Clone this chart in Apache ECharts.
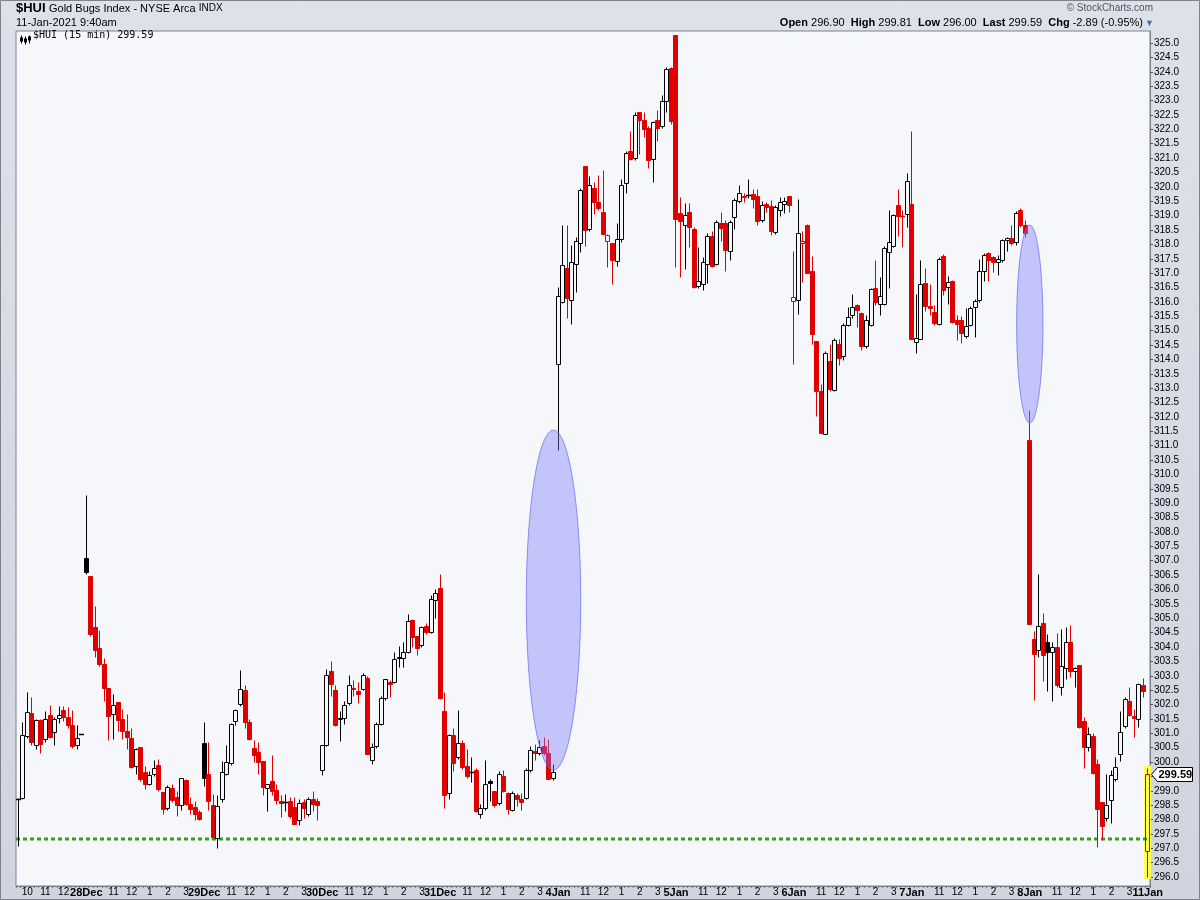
<!DOCTYPE html>
<html>
<head>
<meta charset="utf-8">
<script src="https://cdn.jsdelivr.net/npm/echarts@6/dist/echarts.min.js"></script>
<style>
html,body{margin:0;padding:0;background:#d8dde6;}
#chart{width:1200px;height:900px;}
</style>
</head>
<body>
<div id="chart"></div>
<script>
// ---------------- data ----------------
const dayKeys    = ['24Dec','28Dec','29Dec','30Dec','31Dec','4Jan','5Jan','6Jan','7Jan','8Jan','11Jan'];
const dayLabels  = ['', '28Dec','29Dec','30Dec','31Dec','4Jan','5Jan','6Jan','7Jan','8Jan','11Jan'];
const barsPerDay = [15, 26, 26, 26, 26, 26, 26, 26, 26, 26, 1];
const sessionTimes = ['9:30','9:45','10:00','10:15','10:30','10:45','11:00','11:15','11:30','11:45',
  '12:00','12:15','12:30','12:45','13:00','13:15','13:30','13:45','14:00','14:15','14:30','14:45',
  '15:00','15:15','15:30','15:45'];
const hourMarks = {'10:00':'10','11:00':'11','12:00':'12','13:00':'1','14:00':'2','15:00':'3'};

const opens = [
 298.70,298.76,300.90,301.69,300.61,301.45,300.79,301.64,301.05,301.52,301.81,301.56,301.30,300.58,300.96,
 307.09,306.47,304.68,303.98,303.41,302.57,301.66,302.08,301.49,301.08,300.84,299.88,300.52,299.65,299.24,299.57,299.89,298.96,298.39,299.10,298.78,298.50,299.37,298.55,298.43,298.26,
 300.65,299.57,298.50,297.36,298.73,299.60,299.98,301.43,302.01,302.50,301.40,300.50,300.36,300.03,299.10,299.34,299.02,298.64,298.62,298.66,298.45,298.00,298.60,298.18,298.70,298.64,
 299.72,300.60,303.16,302.50,301.50,301.52,302.07,302.59,302.47,302.53,302.91,300.06,300.56,301.31,302.22,302.79,302.78,303.64,303.61,303.84,304.93,304.38,304.06,304.74,304.53,305.63,
 306.06,301.76,298.91,300.94,300.18,300.67,299.86,299.65,299.72,298.21,298.40,299.34,298.99,298.56,299.53,298.91,298.35,298.87,298.72,298.76,299.71,300.40,300.30,300.56,300.30,299.45,
 313.84,316.01,317.18,316.07,317.32,318.05,320.74,318.53,319.95,319.49,319.14,318.13,318.05,317.41,318.19,320.14,321.23,321.01,322.60,322.34,322.06,320.98,322.32,322.12,322.97,324.13,
 325.27,319.10,318.68,319.14,318.54,316.54,316.63,317.32,318.28,317.32,318.74,318.75,317.76,318.94,319.50,319.70,319.71,319.76,319.67,318.86,319.42,319.35,318.42,319.18,319.42,319.68,
 316.02,316.06,318.04,318.66,317.09,314.65,312.90,311.41,313.96,312.94,314.54,314.13,315.21,315.55,315.90,315.62,314.45,315.21,316.49,315.93,315.93,317.75,317.96,319.38,319.00,319.06,
 319.42,314.62,314.72,316.66,315.87,315.66,315.23,317.61,316.53,316.71,315.37,315.37,314.80,315.20,315.83,316.07,317.09,317.69,317.55,317.40,317.46,318.16,318.21,318.07,319.18,318.68,
 311.21,304.27,303.88,304.83,304.19,303.82,303.99,302.60,303.28,304.19,303.16,303.38,301.41,300.54,300.92,299.93,298.60,298.04,298.69,299.41,300.27,301.25,302.14,301.60,301.48,302.67,
 296.90];
const highs = [
 298.75,301.40,302.44,302.26,301.50,301.50,301.77,301.98,301.55,301.94,301.94,301.90,301.80,301.30,300.96,
 309.29,306.47,305.43,304.59,303.61,302.57,302.35,302.10,301.84,301.66,301.17,300.50,300.52,299.86,299.70,300.06,300.12,298.96,299.20,299.25,299.01,299.45,299.40,298.78,298.64,298.35,
 301.39,300.69,298.90,298.85,300.03,300.58,301.35,301.85,303.19,302.68,301.50,300.75,300.69,300.03,299.25,300.24,299.22,298.87,298.90,298.80,298.78,298.70,298.70,298.79,299.01,298.76,
 300.60,303.25,303.50,302.68,301.77,302.11,303.02,302.86,302.77,303.10,303.00,300.65,301.40,302.30,302.90,302.84,303.84,304.03,304.18,305.16,304.99,304.38,304.72,304.83,305.80,306.03,
 306.55,302.42,300.98,301.18,301.81,300.75,300.47,300.17,299.80,298.55,300.06,299.40,299.00,299.68,299.72,298.95,299.00,298.93,298.93,299.80,300.56,300.62,300.76,300.87,300.79,299.94,
 316.51,318.66,318.66,317.99,318.27,319.95,320.74,320.37,320.16,320.43,320.57,318.35,318.05,318.75,320.26,321.24,321.93,322.60,322.62,322.60,322.10,322.30,322.66,323.18,324.16,324.16,
 325.27,319.64,319.45,319.45,318.60,317.92,317.55,318.40,318.48,318.85,319.14,318.85,318.85,319.60,320.05,319.79,320.26,319.94,319.94,319.50,319.49,319.53,319.38,319.64,319.64,319.70,
 317.76,319.58,318.47,318.70,317.61,314.65,313.14,314.30,314.54,314.75,314.72,315.25,315.81,316.28,315.92,315.65,315.56,316.50,317.47,316.86,317.95,319.21,319.05,319.93,319.20,320.48,
 321.93,316.28,317.47,317.17,316.63,315.89,317.55,317.65,316.89,316.75,315.56,315.50,315.79,315.85,316.10,317.50,317.70,317.73,317.60,317.63,318.20,318.25,318.66,319.15,319.28,318.86,
 312.24,304.57,306.54,305.20,304.45,304.19,304.49,304.64,304.69,304.75,303.30,303.38,301.55,301.23,301.00,300.09,298.60,299.60,299.74,300.16,301.76,302.25,302.60,301.86,302.75,302.93,
 299.81];
const lows = [
 297.07,298.70,300.85,300.60,300.46,300.32,300.70,300.85,300.61,301.37,301.42,301.20,300.50,300.46,300.96,
 306.53,304.38,303.65,303.35,302.12,300.75,300.79,301.08,300.79,300.44,299.80,299.57,299.35,299.05,299.20,299.50,299.00,298.20,298.35,298.60,298.14,298.35,298.50,298.20,298.00,298.00,
 299.18,298.35,297.35,297.01,298.60,299.55,299.90,301.30,301.95,301.20,300.75,299.99,299.57,298.84,298.31,298.87,298.55,298.09,298.31,298.05,297.85,297.82,298.06,298.12,298.29,297.97,
 299.55,300.55,302.30,301.25,300.73,301.33,302.00,302.30,302.07,302.50,300.27,299.94,300.50,301.30,302.15,302.27,302.75,303.30,303.31,303.80,304.00,303.72,304.00,304.45,304.50,305.02,
 302.20,298.40,298.73,299.69,300.10,299.76,299.45,299.31,298.27,298.06,298.35,298.64,298.45,298.49,298.95,298.18,298.30,298.46,298.35,298.70,299.65,300.07,300.25,300.25,299.40,299.37,
 310.85,315.95,315.44,315.23,316.34,317.73,317.94,318.45,319.04,319.20,318.37,317.20,316.61,317.26,318.10,319.78,320.95,320.95,321.15,321.73,320.65,320.16,321.59,322.05,322.60,322.20,
 317.20,316.86,317.15,317.92,316.50,316.50,316.41,316.66,317.20,317.30,318.11,317.07,317.46,318.52,319.45,319.47,319.60,319.26,318.66,318.78,319.12,318.34,318.36,319.00,319.10,319.12,
 313.84,315.58,316.68,317.00,314.54,312.04,311.44,311.41,312.90,312.90,313.81,313.98,315.15,315.45,315.12,314.33,314.40,315.15,315.90,315.53,315.88,316.48,317.90,318.30,317.90,318.62,
 314.70,314.22,314.70,315.67,315.55,315.20,315.20,316.24,315.93,315.25,314.69,314.57,314.75,315.15,314.77,316.00,316.74,316.71,317.03,316.94,317.40,317.78,317.97,317.97,318.60,318.25,
 304.80,302.17,303.66,302.82,302.47,302.14,302.60,302.32,302.90,302.97,302.60,301.20,299.81,300.40,299.60,297.05,297.28,297.95,297.88,299.35,300.04,301.20,301.60,300.88,301.23,302.26,
 296.00];
const closes = [
 298.72,300.93,301.74,300.70,301.45,300.62,301.49,300.88,301.49,301.62,301.57,301.28,300.55,300.82,300.96,
 306.62,304.46,303.90,303.40,302.59,301.60,302.00,301.45,301.09,300.87,299.84,300.47,299.42,299.22,299.55,299.78,299.05,298.36,299.13,298.67,298.49,299.43,298.55,298.37,298.20,298.03,
 299.43,298.64,297.39,298.47,299.65,300.00,301.31,301.80,302.53,301.40,300.79,300.24,300.01,299.13,299.22,299.01,298.67,298.59,298.60,298.12,297.86,298.56,298.40,298.70,298.55,298.52,
 300.59,303.03,302.70,301.29,301.52,302.00,302.67,302.55,302.38,303.02,300.27,300.53,301.31,302.22,302.88,302.73,303.58,303.62,303.83,304.89,304.36,303.98,304.69,304.52,305.66,305.88,
 302.23,298.86,300.94,299.98,300.67,299.84,299.51,299.66,298.31,298.40,299.22,299.26,298.49,299.60,298.99,298.38,298.91,298.70,298.62,299.71,300.43,300.30,300.52,300.30,299.42,299.65,
 316.22,317.29,316.13,317.40,318.13,319.90,318.51,320.08,319.46,319.26,318.37,318.33,317.47,318.19,320.05,321.18,320.98,322.51,322.34,322.00,320.92,322.24,322.04,322.98,324.11,322.29,
 318.89,318.80,319.03,318.60,316.51,316.71,317.40,318.30,317.26,318.79,318.56,317.82,318.79,319.55,319.79,319.64,319.72,319.58,318.81,319.38,319.29,318.46,319.29,319.49,319.50,319.38,
 316.16,318.39,318.13,317.00,314.89,312.90,311.44,314.22,312.97,314.68,314.05,315.20,315.46,315.81,315.72,314.45,315.37,316.45,315.99,316.19,317.88,318.10,319.03,319.00,318.97,320.22,
 314.72,314.73,316.63,315.85,315.78,315.25,317.50,316.41,316.68,315.29,315.23,314.91,315.15,315.79,316.04,317.07,317.63,317.46,317.40,317.50,318.16,318.22,318.04,319.10,318.68,318.40,
 304.80,303.76,304.72,303.73,303.81,304.01,302.67,303.33,304.19,303.16,303.28,301.23,300.51,300.97,299.63,298.37,297.76,298.49,299.55,299.83,301.04,302.19,301.63,301.53,302.72,302.48,
 299.59];

const yTickValues = [296.0,296.5,297.0,297.5,298.0,298.5,299.0,299.5,300.0,300.5,301.0,301.5,302.0,302.5,
  303.0,303.5,304.0,304.5,305.0,305.5,306.0,306.5,307.0,307.5,308.0,308.5,309.0,309.5,310.0,310.5,311.0,
  311.5,312.0,312.5,313.0,313.5,314.0,314.5,315.0,315.5,316.0,316.5,317.0,317.5,318.0,318.5,319.0,319.5,
  320.0,320.5,321.0,321.5,322.0,322.5,323.0,323.5,324.0,324.5,325.0];

const supportLevel = 297.32;
const quote = {symbol:'$HUI', name:'Gold Bugs Index - NYSE Arca', exch:'INDX', date:'11-Jan-2021 9:40am',
  open:296.90, high:299.81, low:296.00, last:299.59, chg:-2.89, chgPct:-0.95};
// annotation ellipses: centre bar, half width in bars, price range
const ellipseBars   = [118, 223];
const ellipseHalfW  = [6, 2.9];
const ellipseLow    = [299.72, 311.79];
const ellipseHigh   = [311.54, 318.67];

// ---------------- build ----------------
const categories = [];
const labelText = [];
dayKeys.forEach((d, di) => {
  const n = barsPerDay[di];
  for (let j = 0; j < n; j++) {
    const t = sessionTimes[j];
    categories.push(d + ' ' + t);
    let lab = '';
    if (j === 0 && dayLabels[di]) lab = '{d|' + dayLabels[di] + '}';
    else if (hourMarks[t] && !(t === '10:00' && dayLabels[di]) && j !== n - 1) lab = hourMarks[t];
    labelText.push(lab);
  }
});

const RED = '#e00000', BLACK = '#000000';
// [index, open, close, low, high, isRed]
const candleRows = opens.map((o, i) => {
  const prev = i > 0 ? closes[i - 1] : o;
  return [i, o, closes[i], lows[i], highs[i], closes[i] < prev ? 1 : 0];
});
const lastIdx = closes.length - 1;

function renderCandle(params, api) {
  const i = api.value(0);
  const o = api.value(1), c = api.value(2), l = api.value(3), h = api.value(4);
  const col = api.value(5) ? RED : BLACK;
  const po = api.coord([i, o]), pc = api.coord([i, c]);
  const yl = api.coord([i, l])[1], yh = api.coord([i, h])[1];
  const cx = Math.floor(po[0]) + 0.5;
  const yTop = Math.round(Math.min(po[1], pc[1])) + 0.5;
  const yBot = Math.round(Math.max(po[1], pc[1])) + 0.5;
  const filled = c < o;
  const children = [];
  const yHigh = Math.round(yh) + 0.5, yLow = Math.round(yl) + 0.5;
  if (yHigh < yTop) children.push({type: 'line', shape: {x1: cx, y1: yHigh, x2: cx, y2: yTop}, style: {stroke: col, lineWidth: 1}});
  if (yLow > yBot) children.push({type: 'line', shape: {x1: cx, y1: yBot, x2: cx, y2: yLow}, style: {stroke: col, lineWidth: 1}});
  if (yBot - yTop < 1) {
    children.push({type: 'line', shape: {x1: cx - 2.5, y1: yTop, x2: cx + 2.5, y2: yTop}, style: {stroke: col, lineWidth: 1.5}});
  } else {
    children.push({type: 'rect', shape: {x: cx - 2, y: yTop, width: 4, height: yBot - yTop},
      style: {fill: filled ? col : 'none', stroke: col, lineWidth: 1}});
  }
  return {type: 'group', children};
}

const chart = echarts.init(document.getElementById('chart'), null, {renderer: 'canvas'});
const FONT = '"Liberation Sans", Arial, sans-serif';

chart.setOption({
  animation: false,
  backgroundColor: new echarts.graphic.LinearGradient(0, 0, 0, 1, [
    {offset: 0, color: '#dde1ea'}, {offset: 1, color: '#cfd4de'}]),
  grid: {left: 16, right: 50, top: 31, bottom: 14, show: true,
    backgroundColor: '#f6f7fb', borderColor: '#7b8190', borderWidth: 1},
  xAxis: {
    type: 'category', data: categories, boundaryGap: true,
    axisLine: {show: true, lineStyle: {color: '#7b8190'}},
    axisTick: {show: true, interval: 0, length: 2, lineStyle: {color: '#777'}},
    axisLabel: {
      interval: (idx) => labelText[idx] !== '',
      formatter: (v, idx) => labelText[idx],
      margin: 1, fontSize: 10, color: '#000', fontFamily: FONT,
      rich: {d: {fontWeight: 'bold', fontSize: 11, fontFamily: FONT, color: '#000'}}
    },
    splitLine: {show: false}
  },
  yAxis: {
    type: 'value', position: 'right', min: 295.69, max: 325.42, scale: true,
    axisLine: {show: true, lineStyle: {color: '#7b8190'}},
    axisTick: {show: true, length: 3, customValues: yTickValues, lineStyle: {color: '#555'}},
    axisLabel: {customValues: yTickValues, formatter: (v) => Number(v).toFixed(1),
      margin: 4, fontSize: 10, color: '#000', fontFamily: FONT},
    splitLine: {show: false}
  },
  series: [
    {
      type: 'custom', name: 'lastBarHighlight', z: 1, silent: true,
      data: [[lastIdx, lows[lastIdx], highs[lastIdx]]],
      encode: {x: 0, y: [1, 2]},
      renderItem: (params, api) => {
        const top = api.coord([api.value(0), api.value(2)]);
        const bot = api.coord([api.value(0), api.value(1)]);
        const cx = Math.floor(top[0]) + 0.5;
        return {type: 'rect', shape: {x: cx - 3.5, y: top[1] - 2, width: 7, height: bot[1] - top[1] + 4},
          style: {fill: '#ffff55'}};
      }
    },
    {
      type: 'custom', name: 'support', z: 2, silent: true,
      data: [[0, supportLevel]],
      encode: {x: 0, y: 1},
      renderItem: (params, api) => {
        const y = Math.round(api.coord([0, api.value(1)])[1]);
        const cs = params.coordSys;
        return {type: 'line', shape: {x1: cs.x, y1: y, x2: cs.x + cs.width, y2: y},
          style: {stroke: '#3a9d1e', lineWidth: 3, lineDash: [4, 3]}};
      }
    },
    {
      type: 'custom', name: '$HUI', z: 3, silent: true,
      data: candleRows,
      encode: {x: 0, y: [1, 2, 3, 4]},
      renderItem: renderCandle
    },
    {
      type: 'custom', name: 'ellipses', z: 5, silent: true,
      data: ellipseBars.map((b, i) => [b, ellipseHalfW[i], ellipseLow[i], ellipseHigh[i]]),
      encode: {x: 0, y: [2, 3]},
      renderItem: (params, api) => {
        const top = api.coord([api.value(0), api.value(3)]);
        const bot = api.coord([api.value(0), api.value(2)]);
        const bw = api.size([1, 0])[0];
        return {type: 'ellipse', shape: {cx: top[0], cy: (top[1] + bot[1]) / 2, rx: api.value(1) * bw, ry: (bot[1] - top[1]) / 2},
          style: {fill: 'rgba(120,120,250,0.40)', stroke: 'rgba(110,110,240,0.75)', lineWidth: 1}};
      }
    },
    {
      type: 'custom', name: 'lastTag', z: 10, silent: true, clip: false,
      data: [[lastIdx, closes[lastIdx]]],
      encode: {x: 0, y: 1},
      renderItem: (params, api) => {
        const cs = params.coordSys;
        const y = Math.round(api.coord([api.value(0), api.value(1)])[1]) + 0.5;
        const x0 = cs.x + cs.width + 1.5;
        const w = 41, hh = 7;
        return {type: 'group', children: [
          {type: 'polygon', shape: {points: [[x0, y], [x0 + 6, y - hh], [x0 + w, y - hh], [x0 + w, y + hh], [x0 + 6, y + hh]]},
            style: {fill: '#ffffff', stroke: '#000', lineWidth: 1}},
          {type: 'text', x: x0 + 7, y: y, style: {text: api.value(1).toFixed(2), font: 'bold 11px ' + FONT,
            fill: '#000', verticalAlign: 'middle', align: 'left'}}
        ]};
      }
    }
  ],
  graphic: [
    {type: 'rect', silent: true, shape: {x: 0.5, y: 0.5, width: 1199, height: 899},
      style: {fill: 'none', stroke: '#7c8290', lineWidth: 1}, z: 100},
    {type: 'text', left: 16, top: 2, style: {text: quote.symbol, font: 'bold 13px ' + FONT, fill: '#000'}},
    {type: 'text', left: 49, top: 3, style: {
      text: quote.name + ' {s|' + quote.exch + '}', font: '11px ' + FONT, fill: '#000',
      rich: {s: {fontSize: 10, fontFamily: FONT, fill: '#000'}}}},
    {type: 'text', left: 16, top: 17, style: {text: quote.date, font: '11px ' + FONT, fill: '#000'}},
    {type: 'text', right: 47, top: 3, style: {text: '\u00a9 StockCharts.com', font: '10px ' + FONT, fill: '#555'}},
    {type: 'text', right: 57, top: 17, style: {
      text: '{b|Open} ' + quote.open.toFixed(2) + '  {b|High} ' + quote.high.toFixed(2) +
            '  {b|Low} ' + quote.low.toFixed(2) + '  {b|Last} ' + quote.last.toFixed(2) +
            '  {b|Chg} ' + quote.chg.toFixed(2) + ' (' + quote.chgPct.toFixed(2) + '%)',
      font: '11px ' + FONT, fill: '#000',
      rich: {b: {fontWeight: 'bold', fontSize: 11, fontFamily: FONT, fill: '#000'}}}},
    {type: 'text', left: 1145, top: 19, style: {text: '\u25BC', font: '9px ' + FONT, fill: '#4a6fb0'}},
    {type: 'group', left: 19, top: 33, children: [
      {type: 'line', shape: {x1: 1.5, y1: 0, x2: 1.5, y2: 8}, style: {stroke: '#000', lineWidth: 1}},
      {type: 'rect', shape: {x: 0, y: 2, width: 3, height: 4}, style: {fill: '#000'}},
      {type: 'line', shape: {x1: 5.5, y1: 1, x2: 5.5, y2: 9}, style: {stroke: '#000', lineWidth: 1}},
      {type: 'rect', shape: {x: 4, y: 3, width: 3, height: 4}, style: {fill: '#000'}},
      {type: 'line', shape: {x1: 9.5, y1: 0, x2: 9.5, y2: 8}, style: {stroke: '#000', lineWidth: 1}},
      {type: 'rect', shape: {x: 8, y: 1, width: 3, height: 4}, style: {fill: '#000'}}
    ]},
    {type: 'text', left: 33, top: 30, style: {
      text: quote.symbol + ' (15 min) ' + closes[lastIdx].toFixed(2),
      font: '10px "DejaVu Sans Mono", monospace', fill: '#000'}}
  ]
});
</script>
</body>
</html>
